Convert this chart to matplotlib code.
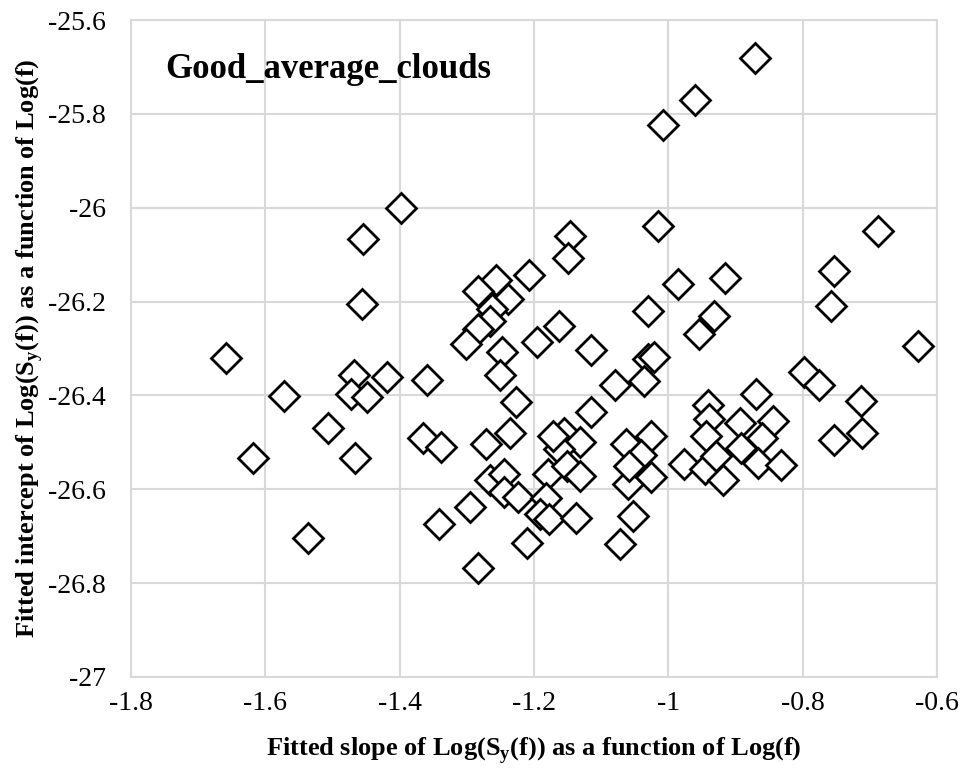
import matplotlib
matplotlib.use("Agg")
import matplotlib.pyplot as plt
import numpy as np

# fitted slope / intercept pairs
slope = [
    -1.658, -1.572, -1.618, -1.506, -1.468, -1.472, -1.448, -1.419, -1.466, -1.536,
    -1.359, -1.365, -1.339, -1.342, -1.398, -1.455, -1.456,
    -1.207, -1.257, -1.283, -1.238, -1.262, -1.266, -1.283, -1.301, -1.248, -1.250,
    -1.196, -1.163, -1.115, -1.080, -1.227, -1.115, -1.272, -1.236, -1.266, -1.244,
    -1.244, -1.224, -1.295, -1.283, -1.211, -1.179, -1.182, -1.191, -1.177, -1.137,
    -1.155, -1.132, -1.163, -1.151, -1.131, -1.172, -1.146, -1.150,
    -1.063, -1.060, -1.052, -1.072, -1.026, -1.040, -1.058, -1.026, -1.031, -1.030,
    -1.022, -1.036, -1.015, -1.008, -0.960, -0.871, -0.985, -0.915, -0.932, -0.954,
    -0.870, -0.941, -0.939, -0.944, -0.894, -0.844, -0.860, -0.892, -0.867, -0.832,
    -0.976, -0.946, -0.929, -0.919,
    -0.688, -0.753, -0.758, -0.629, -0.798, -0.776, -0.713, -0.711, -0.753,
]
intercept = [
    -26.320, -26.401, -26.533, -26.469, -26.356, -26.396, -26.403, -26.360, -26.533, -26.703,
    -26.367, -26.490, -26.509, -26.675, -26.001, -26.067, -26.205,
    -26.144, -26.154, -26.177, -26.195, -26.215, -26.241, -26.259, -26.291, -26.307, -26.356,
    -26.287, -26.253, -26.303, -26.378, -26.415, -26.435, -26.503, -26.479, -26.581, -26.567,
    -26.606, -26.617, -26.637, -26.767, -26.714, -26.567, -26.619, -26.652, -26.663, -26.661,
    -26.481, -26.500, -26.514, -26.550, -26.571, -26.487, -26.060, -26.108,
    -26.503, -26.588, -26.656, -26.716, -26.486, -26.526, -26.550, -26.574, -26.220, -26.323,
    -26.319, -26.370, -26.040, -25.823, -25.771, -25.681, -26.163, -26.150, -26.230, -26.270,
    -26.397, -26.421, -26.450, -26.486, -26.458, -26.455, -26.490, -26.513, -26.543, -26.549,
    -26.546, -26.556, -26.530, -26.581,
    -26.050, -26.135, -26.210, -26.294, -26.351, -26.378, -26.411, -26.479, -26.496,
]

xticks = [-1.8, -1.6, -1.4, -1.2, -1.0, -0.8, -0.6]
xtick_labels = ["-1.8", "-1.6", "-1.4", "-1.2", "-1", "-0.8", "-0.6"]
yticks = [-27.0, -26.8, -26.6, -26.4, -26.2, -26.0, -25.8, -25.6]
ytick_labels = ["-27", "-26.8", "-26.6", "-26.4", "-26.2", "-26", "-25.8", "-25.6"]

plt.rcParams["font.family"] = ["Liberation Serif", "DejaVu Serif"]

fig = plt.figure(figsize=(9.63, 7.73), dpi=100)
ax = fig.add_axes([131 / 963, 1 - 677 / 773, 806 / 963, 657 / 773])

ax.plot(slope, intercept, linestyle="none", marker="D", markersize=15,
        markerfacecolor="white", markeredgecolor="black", markeredgewidth=2, zorder=3)

ax.set_xlim(-1.8, -0.6)
ax.set_ylim(-27, -25.6)
ax.set_xticks(xticks)
ax.set_xticklabels(xtick_labels)
ax.set_yticks(yticks)
ax.set_yticklabels(ytick_labels)
ax.tick_params(length=0, labelsize=20, pad=10)
ax.tick_params(axis="y", pad=18)
ax.grid(True, color="#d9d9d9", linewidth=1.5, zorder=0)
ax.set_axisbelow(True)
for s in ax.spines.values():
    s.set_color("#d9d9d9")
    s.set_linewidth(1.5)

ax.set_xlabel(r"Fitted slope of Log(S$_\mathregular{y}$(f)) as a function of Log(f)",
              fontsize=19, fontweight="bold", labelpad=14)
ax.set_ylabel(r"Fitted intercept of Log(S$_\mathregular{y}$(f)) as a function of Log(f)",
              fontsize=19, fontweight="bold", labelpad=2)

ax.text(0.043, 0.924, "Good_average_clouds", transform=ax.transAxes,
        fontsize=25, fontweight="bold", va="center", ha="left")

fig.savefig("out.png", dpi=100)
